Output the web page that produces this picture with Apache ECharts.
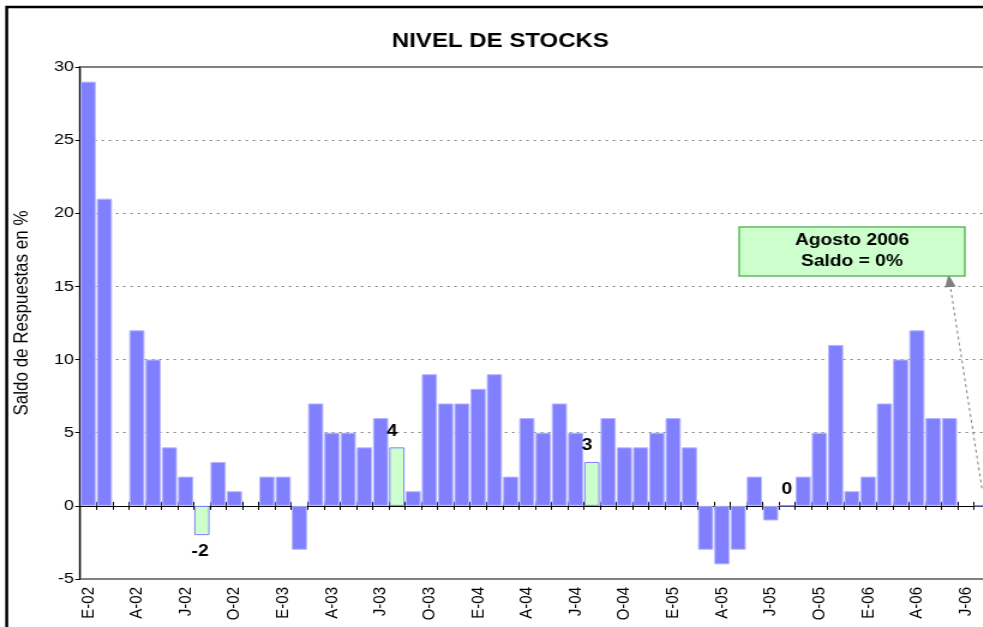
<!DOCTYPE html>
<html>
<head>
<meta charset="utf-8">
<title>Nivel de stocks</title>
<script src="https://cdn.jsdelivr.net/npm/echarts@6/dist/echarts.min.js"></script>
<style>
  html, body { margin: 0; padding: 0; background: #fff; overflow: hidden; }
  /* the original picture is stretched sideways, so the chart is too */
  #chart { width: 834px; height: 627px; transform: scaleX(1.2); transform-origin: 0 0; }
</style>
</head>
<body>
<div id="chart"></div>
<script>
// one bar per month, Jan 2002 .. Aug 2006
const categories = [
  'Ene-02','Feb-02','Mar-02','Abr-02','May-02','Jun-02','Jul-02','Ago-02','Sep-02','Oct-02','Nov-02','Dic-02',
  'Ene-03','Feb-03','Mar-03','Abr-03','May-03','Jun-03','Jul-03','Ago-03','Sep-03','Oct-03','Nov-03','Dic-03',
  'Ene-04','Feb-04','Mar-04','Abr-04','May-04','Jun-04','Jul-04','Ago-04','Sep-04','Oct-04','Nov-04','Dic-04',
  'Ene-05','Feb-05','Mar-05','Abr-05','May-05','Jun-05','Jul-05','Ago-05','Sep-05','Oct-05','Nov-05','Dic-05',
  'Ene-06','Feb-06','Mar-06','Abr-06','May-06','Jun-06','Jul-06','Ago-06'
]
const values = [
  29, 21, 0, 12, 10, 4, 2, -2, 3, 1, 0, 2,
  2, -3, 7, 5, 5, 4, 6, 4, 1, 9, 7, 7,
  8, 9, 2, 6, 5, 7, 5, 3, 6, 4, 4, 5,
  6, 4, -3, -4, -3, 2, -1, 0, 2, 5, 11, 1,
  2, 7, 10, 12, 6, 6, 0, 0
]
// a label every third month
const tickLabels = [
  'E-02','A-02','J-02','O-02','E-03','A-03','J-03','O-03','E-04','A-04','J-04','O-04',
  'E-05','A-05','J-05','O-05','E-06','A-06','J-06'
]
// August bars are drawn green, the first four carry their value
const augustIdx = [7, 19, 31, 43, 55]
const labeledIdx = [7, 19, 31, 43]

const FONT = '"Liberation Sans", Arial, sans-serif'

const seriesData = values.map((v, i) => {
  const item = { value: v }
  if (augustIdx.includes(i)) {
    item.itemStyle = { color: '#CCFFCC', borderColor: '#8080FF', borderWidth: 1 }
  } else if (v === 0) {
    item.itemStyle = { borderWidth: 0 }
  }
  if (labeledIdx.includes(i)) {
    item.label = v < 0
      ? { show: true, position: 'bottom', distance: 8, offset: [-1.5, 0] }
      : { show: true, position: 'top', distance: 8, offset: [v === 0 ? 0 : -4, 0] }
  }
  return item
})

const myChart = echarts.init(document.getElementById('chart'))
myChart.setOption({
  animation: false,
  textStyle: { fontFamily: FONT },
  title: {
    text: 'NIVEL DE STOCKS',
    left: 'center',
    top: 26,
    textStyle: { fontSize: 20, fontWeight: 'bold', color: '#000', fontFamily: FONT },
  },
  grid: {
    left: 66.67,
    right: 9,
    top: 67,
    bottom: 48,
    show: true,
    borderColor: '#808080',
    borderWidth: 2,
  },
  xAxis: [
    {
      // zero line, ticks hanging down
      type: 'category',
      data: categories,
      position: 'bottom',
      axisLine: { onZero: true, onZeroAxisIndex: 0, lineStyle: { color: '#000', width: 1 } },
      axisTick: { show: true, interval: 0, length: 4, lineStyle: { color: '#000' } },
      axisLabel: { show: false },
      splitLine: { show: false },
    },
    {
      // same line, ticks standing up
      type: 'category',
      data: categories,
      position: 'top',
      axisLine: { show: false, onZero: true, onZeroAxisIndex: 0 },
      axisTick: { show: true, interval: 0, length: 4, lineStyle: { color: '#000' } },
      axisLabel: { show: false },
      splitLine: { show: false },
    },
    {
      // month labels under the plot
      type: 'category',
      data: categories,
      position: 'bottom',
      axisLine: { show: false, onZero: false },
      axisTick: { show: false },
      splitLine: { show: false },
      axisLabel: {
        interval: 0,
        rotate: 90,
        margin: 8,
        fontSize: 15,
        color: '#000',
        fontFamily: FONT,
        formatter: (val, idx) => (idx % 3 === 0 ? tickLabels[idx / 3] : ''),
      },
    },
  ],
  yAxis: {
    type: 'value',
    min: -5,
    max: 30,
    interval: 5,
    name: 'Saldo de Respuestas en %',
    nameLocation: 'middle',
    nameGap: 40,
    nameTextStyle: { fontSize: 17, color: '#000', fontFamily: FONT, padding: [0, 0, 0, 20] },
    axisLine: { show: true, lineStyle: { color: '#000', width: 1 } },
    axisTick: { show: true, length: 4, lineStyle: { color: '#000' } },
    axisLabel: { fontSize: 15, color: '#000', margin: 5, fontFamily: FONT },
    splitLine: { show: true, lineStyle: { color: '#808080', type: [2, 4], width: 1 } },
  },
  series: [
    {
      type: 'bar',
      data: seriesData,
      barCategoryGap: '6%',
      itemStyle: { color: '#8080FF', borderColor: '#B4B4FF', borderWidth: 1 },
      label: { fontSize: 16, fontWeight: 'bold', color: '#000', fontFamily: FONT },
      markLine: {
        silent: true,
        symbol: ['none', 'triangle'],
        symbolSize: [9, 13],
        label: { show: false },
        lineStyle: { color: '#808080', type: [3, 3], width: 1 },
        data: [[
          { coord: [categories[55], 1.2] },
          { coord: [categories[53], 15.4] },
        ]],
      },
    },
  ],
  graphic: [
    {
      type: 'rect',
      shape: { x: 5.6, y: 7, width: 1000, height: 700 },
      style: { fill: 'none', stroke: '#000', lineWidth: 2.5 },
      silent: true,
    },
    {
      type: 'rect',
      shape: { x: 616, y: 227, width: 188, height: 49 },
      style: { fill: '#CCFFCC', stroke: '#5DBB5D', lineWidth: 1.5 },
      z: 10,
    },
    {
      type: 'text',
      x: 710,
      y: 251.5,
      style: {
        text: 'Agosto 2006\nSaldo = 0%',
        font: 'bold 16px ' + FONT,
        fill: '#000',
        align: 'center',
        verticalAlign: 'middle',
        lineHeight: 21,
      },
      z: 11,
    },
  ],
})
</script>
</body>
</html>
